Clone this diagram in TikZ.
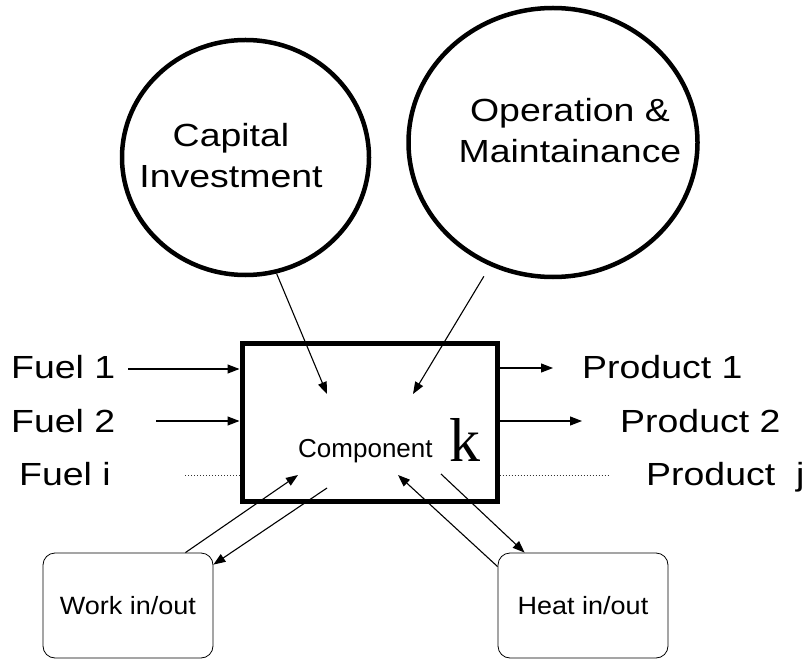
\documentclass[tikz,border=0pt]{standalone}
\usepackage{fontspec}
\setmainfont{Liberation Sans}
\newfontfamily\lblfont[FakeStretch=1.17]{Liberation Sans}
\newfontfamily\boxfont[FakeStretch=1.08]{Liberation Sans}
\newfontfamily\kfont{Liberation Serif}
\usetikzlibrary{shapes.geometric,arrows.meta}

\begin{document}
\begin{tikzpicture}[x=1pt,y=-1pt,
  lbl/.style={font=\lblfont\fontsize{32}{41}\selectfont, inner sep=0pt},
  ring/.style={draw, line width=4.5pt, ellipse, inner sep=0pt},
  unit/.style={draw, line width=5pt, minimum width=255pt, minimum height=158pt, inner sep=0pt},
  side/.style={draw, line width=0.8pt, rounded corners=12pt, minimum width=170pt,
               minimum height=105pt, inner sep=0pt, font=\boxfont\fontsize{25}{30}\selectfont},
  arr/.style={-{Triangle[length=12pt,width=9pt]}, line width=1.1pt},
  dots/.style={dash pattern=on 1pt off 2pt, line width=1pt, black!80}
]
\useasboundingbox (0,0) rectangle (808,660);

% cost circles
\node[ring, minimum width=247pt, minimum height=235pt] (cap) at (245.5,157.5) {};
\node[lbl, align=center] (captxt) at (231,156) {Capital\\Investment};
\node[ring, minimum width=289pt, minimum height=269pt] (op) at (553,142.5) {};
\node[lbl, align=center] (optxt) at (570,131) {Operation \&\\Maintainance};

% the component
\node[unit] (unit) at (369.5,422) {};
\node[anchor=base west, inner sep=0pt, font=\fontsize{26}{30}\selectfont] (comp) at (298,457) {Component};
\node[anchor=base west, inner sep=0pt, font=\kfont\fontsize{62}{70}\selectfont] (kk) at (449,461) {k};

% fuels and products
\node[lbl, anchor=base west] (fuel1) at (11,378) {Fuel 1};
\node[lbl, anchor=base west] (fuel2) at (11,432) {Fuel 2};
\node[lbl, anchor=base west] (fueli) at (19,485) {Fuel i};
\node[lbl, anchor=base west] (prod1) at (582,378) {Product 1};
\node[lbl, anchor=base west] (prod2) at (620,432) {Product 2};
\node[lbl, anchor=base west] (prodj) at (646,485) {Product\ \ j};

% work and heat exchange
\node[side] (work) at (128,605.5) {Work in/out};
\node[side] (heat) at (583,605.5) {Heat in/out};

% cost flows into the component
\coordinate (capTip) at (327,394);
\coordinate (opTip) at (413,394);
\draw[arr] (cap.-75.5) -- (capTip);
\draw[arr, shorten <=12pt] (op.-117) -- (opTip);

% fuel streams
\coordinate (f1s) at (128,369);
\coordinate (f2s) at (156,421);
\coordinate (fis) at (185,475);
\draw[arr] (f1s) -- (f1s -| unit.west);
\draw[arr] (f2s) -- (f2s -| unit.west);
\draw[dots] (fis) -- (fis -| unit.west);

% product streams
\coordinate (p1e) at (553,368);
\coordinate (p2e) at (582,421);
\coordinate (pje) at (608,475);
\draw[arr] (p1e -| unit.east) -- (p1e);
\draw[arr] (p2e -| unit.east) -- (p2e);
\draw[dots] (pje -| unit.east) -- (pje);

% work in/out
\coordinate (w1) at (298,475);
\coordinate (w2) at (327,488);
\draw[arr] ([xshift=-28pt]work.north east) -- (w1);
\draw[arr] (w2) -- ([yshift=-12pt]work.north east);

% heat in/out
\coordinate (h1) at (398,475);
\coordinate (h2) at (441,474);
\draw[arr] ([yshift=-14pt]heat.north west) -- (h1);
\draw[arr] (h2) -- ([xshift=27pt]heat.north west);
\end{tikzpicture}
\end{document}
